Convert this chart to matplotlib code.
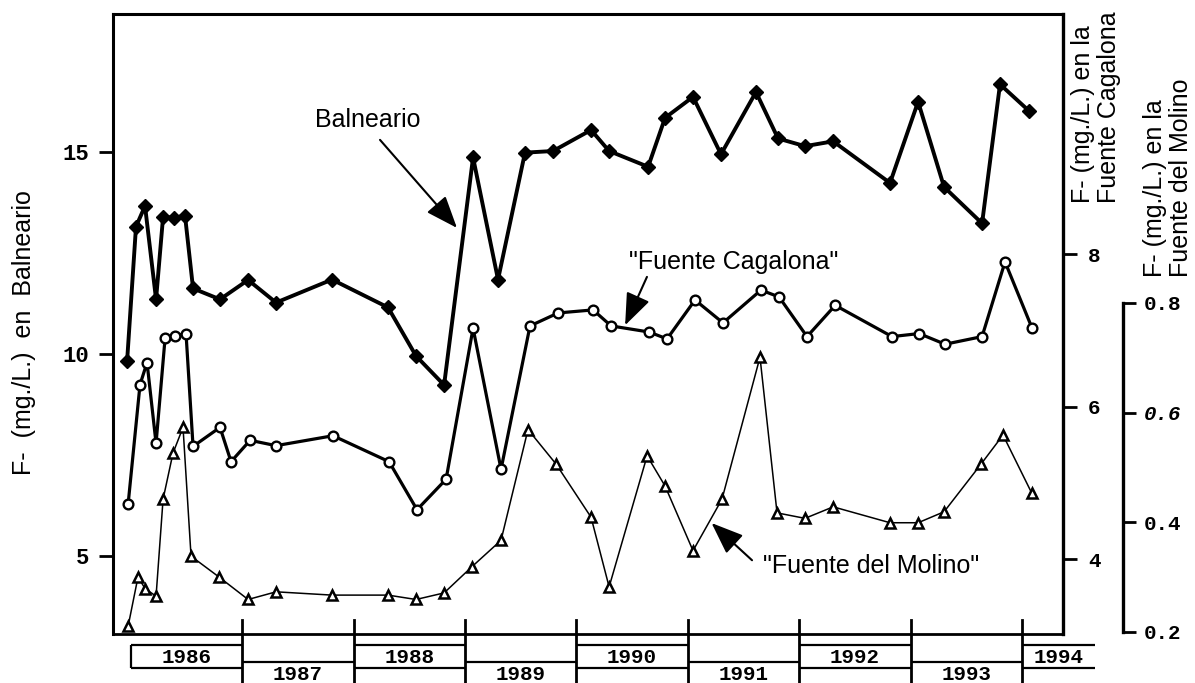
import matplotlib
matplotlib.use("Agg")
import matplotlib.pyplot as plt

# Fluoride readings (mg/L) at three springs.
bal_dates = [1985.968, 1986.048, 1986.129, 1986.228, 1986.291, 1986.389, 1986.488,
             1986.560, 1986.802, 1987.054, 1987.305, 1987.807, 1988.310, 1988.561,
             1988.813, 1989.073, 1989.297, 1989.539, 1989.791, 1990.132, 1990.294,
             1990.644, 1990.796, 1991.047, 1991.298, 1991.612, 1991.810, 1992.052,
             1992.305, 1992.815, 1993.067, 1993.300, 1993.641, 1993.802, 1994.063]
balneario = [9.82, 13.15, 13.66, 11.35, 13.39, 13.37, 13.42, 11.62, 11.35, 11.83,
             11.27, 11.84, 11.15, 9.95, 9.23, 14.86, 11.84, 14.98, 15.02, 15.54,
             15.02, 14.63, 15.84, 16.36, 14.94, 16.48, 15.33, 15.14, 15.26, 14.23,
             16.24, 14.13, 13.23, 16.67, 16.01]

cag_dates = [1985.977, 1986.084, 1986.147, 1986.228, 1986.309, 1986.398, 1986.497,
             1986.560, 1986.802, 1986.901, 1987.072, 1987.305, 1987.816, 1988.319,
             1988.570, 1988.831, 1989.073, 1989.324, 1989.584, 1989.836, 1990.150,
             1990.312, 1990.653, 1990.814, 1991.065, 1991.316, 1991.657, 1991.819,
             1992.070, 1992.323, 1992.833, 1993.076, 1993.309, 1993.641, 1993.847,
             1994.090]
cagalona = [4.72, 6.29, 6.58, 5.52, 6.90, 6.93, 6.96, 5.48, 5.73, 5.28, 5.56, 5.49,
            5.62, 5.28, 4.65, 5.05, 7.03, 5.18, 7.06, 7.23, 7.27, 7.06, 6.98, 6.89,
            7.40, 7.10, 7.53, 7.44, 6.92, 7.33, 6.92, 6.96, 6.82, 6.92, 7.90, 7.03]

mol_dates = [1985.977, 1986.066, 1986.129, 1986.228, 1986.291, 1986.380, 1986.470,
             1986.542, 1986.793, 1987.054, 1987.305, 1987.807, 1988.310, 1988.561,
             1988.813, 1989.064, 1989.324, 1989.566, 1989.818, 1990.132, 1990.294,
             1990.635, 1990.796, 1991.047, 1991.307, 1991.648, 1991.801, 1992.052,
             1992.305, 1992.815, 1993.067, 1993.300, 1993.632, 1993.829, 1994.087]
molino = [0.210, 0.300, 0.279, 0.265, 0.442, 0.526, 0.573, 0.338, 0.300, 0.259,
          0.273, 0.267, 0.267, 0.259, 0.271, 0.319, 0.367, 0.569, 0.506, 0.409,
          0.282, 0.521, 0.466, 0.348, 0.442, 0.701, 0.417, 0.407, 0.428, 0.399,
          0.399, 0.419, 0.506, 0.559, 0.453]

years = [1986, 1987, 1988, 1989, 1990, 1991, 1992, 1993, 1994]
left_ticks = [5, 10, 15]
cag_ticks = [4, 6, 8]
mol_ticks = [0.2, 0.4, 0.6, 0.8]

SANS = "Liberation Sans"
MONO = "Liberation Mono"

fig = plt.figure(figsize=(11.95, 6.83), dpi=100)
ax = fig.add_axes([0.0946, 0.0717, 0.795, 0.9078])
ax2 = ax.twinx()
ax3 = ax.twinx()

ax.set_xlim(1985.842, 1994.368)
ax.set_ylim(3.07, 18.41)
ax2.set_ylim(3.02, 11.15)
ax3.set_ylim(0.196, 1.327)

ax.plot(bal_dates, balneario, color="black", lw=2.8, marker="D", ms=7.5,
        mfc="black", mec="black", zorder=3)
ax2.plot(cag_dates, cagalona, color="black", lw=2.3, marker="o", ms=7,
         mfc="white", mec="black", mew=1.7, zorder=3)
ax3.plot(mol_dates, molino, color="black", lw=1.1, marker="^", ms=7.5,
         mfc="white", mec="black", mew=1.8, zorder=3)

# spines
for a in (ax2, ax3):
    for s in ("left", "top", "bottom"):
        a.spines[s].set_visible(False)
ax.spines["right"].set_visible(False)
ax.spines["left"].set_linewidth(2.2)
ax.spines["top"].set_linewidth(2.2)
ax.spines["bottom"].set_linewidth(2.0)
ax2.spines["right"].set_linewidth(2.4)
ax3.spines["right"].set_linewidth(2.4)
ax3.spines["right"].set_position(("axes", 1.0632))
ax3.spines["right"].set_bounds(0.2, 0.8)

ax.set_xticks([])
ax.set_yticks(left_ticks)
ax.tick_params(axis="y", direction="out", length=10, width=2, pad=7)
ax2.set_yticks(cag_ticks)
ax2.tick_params(axis="y", direction="out", length=10, width=2, pad=8)
ax3.set_yticks(mol_ticks)
ax3.tick_params(axis="y", direction="out", length=9, width=2, pad=6)

for lab in ax.get_yticklabels():
    lab.set_fontfamily(MONO)
    lab.set_fontweight("bold")
    lab.set_fontsize(16)
for lab in ax2.get_yticklabels():
    lab.set_fontfamily(MONO)
    lab.set_fontweight("bold")
    lab.set_fontsize(15)
ax3.set_yticklabels([f"{t:.1f}" for t in mol_ticks])
for lab in ax3.get_yticklabels():
    lab.set_fontfamily(MONO)
    lab.set_fontweight("bold")
    lab.set_fontsize(15)
    if lab.get_text() == "0.6":
        lab.set_fontstyle("italic")

# axis titles
fig.text(0.0201, 0.5124, "F-  (mg./L.)  en  Balneario", rotation=90,
         ha="center", va="center", family=SANS, fontsize=18)
fig.text(0.9172, 0.7028, "F- (mg./L.) en la\nFuente Cagalona", rotation=90,
         ha="center", va="bottom", multialignment="left", family=SANS,
         fontsize=18, linespacing=1.1)
fig.text(0.9774, 0.5944, "F- (mg./L.) en la\nFuente del Molino", rotation=90,
         ha="center", va="bottom", multialignment="left", family=SANS,
         fontsize=18, linespacing=1.1)

# series labels with arrows
arrow = dict(arrowstyle="-|>,head_length=0.9,head_width=0.35", color="black",
             lw=1.5, shrinkA=0, shrinkB=0, mutation_scale=22)
ax.text(0.268, 0.829, "Balneario", transform=ax.transAxes, ha="center",
        va="center", family=SANS, fontsize=18)
ax.annotate("", xy=(0.362, 0.655), xytext=(0.281, 0.797),
            xycoords="axes fraction", textcoords="axes fraction", arrowprops=arrow)
ax.text(0.6537, 0.60, '"Fuente Cagalona"', transform=ax.transAxes, ha="center",
        va="center", family=SANS, fontsize=18)
ax.annotate("", xy=(0.539, 0.498), xytext=(0.562, 0.576),
            xycoords="axes fraction", textcoords="axes fraction", arrowprops=arrow)
ax.text(0.798, 0.1097, '"Fuente del Molino"', transform=ax.transAxes, ha="center",
        va="center", family=SANS, fontsize=18)
ax.annotate("", xy=(0.630, 0.179), xytext=(0.6726, 0.119),
            xycoords="axes fraction", textcoords="axes fraction", arrowprops=arrow)

# staggered year boxes below the axis
tr = ax.get_xaxis_transform()
box = dict(color="black", lw=1.6, transform=tr, clip_on=False, solid_capstyle="butt")
for yr in years:
    end = yr + 1 if yr != years[-1] else yr + 0.655
    if yr % 2 == 0:
        ax.plot([yr, end], [-0.0177, -0.0177], **box)
        ax.plot([yr, end], [-0.0548, -0.0548], **box)
        ax.text((yr + end) / 2, -0.0371, str(yr), transform=tr, ha="center",
                va="center", family=MONO, fontweight="bold", fontsize=15)
    else:
        ax.plot([yr, end], [-0.0452, -0.0452], **box)
        ax.text((yr + end) / 2, -0.0645, str(yr), transform=tr, ha="center",
                va="center", family=MONO, fontweight="bold", fontsize=15)
    if yr == years[0]:
        ax.plot([yr, yr], [-0.0177, -0.0548], **box)
    else:
        ax.plot([yr, yr], [0.0226, -0.08], color="black", lw=2, transform=tr,
                clip_on=False)

fig.savefig("out.png", dpi=100)
